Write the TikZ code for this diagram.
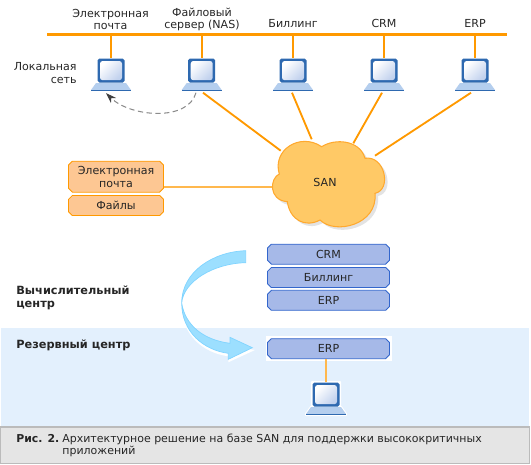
\documentclass[tikz,border=0pt]{standalone}
\usepackage{xcolor}
\usepackage{fontspec}
\setmainfont{DejaVu Sans}
\usetikzlibrary{shapes.misc,arrows.meta,positioning,calc}
\definecolor{busorange}{HTML}{FF9900}
\definecolor{linkorange}{HTML}{FFB84D}
\definecolor{cloudfill}{HTML}{FFC966}
\definecolor{cloudedge}{HTML}{FFA92E}
\definecolor{filefill}{HTML}{FDC793}
\definecolor{appfill}{HTML}{A6B9E8}
\definecolor{appedge}{HTML}{3366CC}
\definecolor{bandfill}{HTML}{E3F0FD}
\definecolor{arcfill}{HTML}{9CDFFF}
\definecolor{arcedge}{HTML}{80D4FF}
\definecolor{capfill}{HTML}{E5E5E5}
\definecolor{capedge}{HTML}{BBBBBB}
\definecolor{pcblue}{HTML}{2E69B0}
\definecolor{pcbase}{HTML}{B4CEEE}
\definecolor{pcglass}{HTML}{C2D2EE}
\tikzset{
  lbl/.style={font=\fontsize{6.3}{7.3}\selectfont, align=center, inner sep=0pt, text=black!85},
  boldlbl/.style={font=\fontsize{6.45}{7.3}\selectfont\bfseries, align=left, inner sep=0pt, anchor=west, text=black!85},
  filebox/.style={draw=busorange, fill=filefill, line width=0.5pt, chamfered rectangle,
    chamfered rectangle corners=all, chamfered rectangle xsep=1.1pt, chamfered rectangle ysep=1.1pt,
    minimum width=95*0.02cm, align=center, inner sep=0pt, lbl},
  appbox/.style={draw=appedge, fill=appfill, line width=0.5pt, chamfered rectangle,
    chamfered rectangle corners=all, chamfered rectangle xsep=1.1pt, chamfered rectangle ysep=1.1pt,
    minimum width=122*0.02cm, minimum height=20*0.02cm, inner sep=0pt, lbl},
  bus/.style={draw=busorange, line width=1.15pt},
  link/.style={draw=linkorange, line width=1.1pt},
  pics/laptop/.style={code={
    \draw[white, fill=white, line width=1.2pt, line join=round] (-14,-16) -- (14,-16) -- (14,9) -- (15,9) -- (20,16) -- (20,17) -- (-20,17) -- (-20,16) -- (-15,9) -- (-14,9) -- cycle;
    \fill[pcblue, rounded corners=1pt] (-13.5,-15.5) rectangle (13.5,8.5);
    \shade[top color=white, bottom color=pcglass, shading angle=45, rounded corners=1.5pt] (-11,-13) rectangle (11,6.2);
    \fill[pcbase] (-15,9) -- (15,9) -- (20,16) -- (-20,16) -- cycle;
    \fill[pcblue] (-20,15.5) rectangle (20,17);
    \coordinate (-top) at (0,-16);
    \coordinate (-bot) at (0,18);
  }}
}
\begin{document}
\begin{tikzpicture}[x=0.02cm, y=-0.02cm]
    \useasboundingbox (0,0) rectangle (531,464);
    % ---- reserve band and caption
    \fill[bandfill] (1,328) rectangle (529,428);
    \draw[capedge, fill=capfill, line width=0.6pt] (0.5,427) rectangle (529.5,463.5);
    \node[boldlbl, font=\fontsize{6.2}{7.3}\selectfont\bfseries] (capnum) at (16,439) {Рис. 2.};
    \node[lbl, anchor=west, align=left, font=\fontsize{6.25}{6.9}\selectfont] (captext) at (62,445) {Архитектурное решение на базе SAN для поддержки высококритичных\\приложений};
    % ---- network
    \coordinate (busl) at (47,34.5);
    \coordinate (busr) at (507,34.5);
    \draw[bus] (busl) -- (busr);
    \foreach \n/\x in {mail/111,nas/201.7,bill/293,crm/384,erp/475}
      { \pic (\n) at (\x,74) {laptop}; }
    \foreach \n/\x in {mail/111,nas/201.7,bill/293,crm/384,erp/475}
      { \draw[bus] (\x,34.5) -- (\n-top); }
    \node[lbl] (lmail) at (110.5,19.5) {Электронная\\почта};
    \node[lbl] (lnas)  at (202,19.5) {Файловый\\сервер (NAS)};
    \node[lbl] (lbill) at (293,23) {Биллинг};
    \node[lbl] (lcrm)  at (384,23) {CRM};
    \node[lbl] (lerp)  at (475,23) {ERP};
    \node[lbl, align=right, anchor=east] (llan) at (77,73) {Локальная\\сеть};
    \draw[densely dashed, draw=black!45, line width=0.6pt, -{Stealth[length=6pt,width=4pt,black!75]}]
      (196,92.7) .. controls (188,122) and (130,117) .. (106,93);
    % ---- cloud
    \path[fill=black!11] (282,177) .. controls (275,153) and (303,135) .. (325,150)
      .. controls (338,141) and (363,143) .. (368,161)
      .. controls (388,158) and (395,193) .. (378,196)
      .. controls (381,228) and (338,238) .. (323,223)
      .. controls (308,231) and (293,223) .. (290,205)
      .. controls (271,203) and (273,181) .. (282,177) -- cycle;
    \path[fill=cloudfill, draw=cloudedge, line width=0.6pt] (279.3,174) .. controls (272,150) and (300,132) .. (321.7,146.7)
      .. controls (335,138) and (360,140) .. (365,158.3)
      .. controls (385,155) and (392,190) .. (375,193.3)
      .. controls (378,225) and (335,235) .. (320,220)
      .. controls (305,228) and (290,220) .. (287.3,201.7)
      .. controls (268,200) and (270,178) .. (279.3,174) -- cycle;
    \node[lbl] (san) at (325,182) {SAN};
    \coordinate (sanw) at (271.7,186.7);
    \coordinate (sana) at (280.7,150.7);
    \coordinate (sanb) at (311.7,139.3);
    \coordinate (sanc) at (353.3,143.3);
    \coordinate (sand) at (375,155.7);
    \coordinate (nasl) at (203,92.7);
    \coordinate (bill) at (292,92.7);
    \coordinate (crml) at (382,92.7);
    \coordinate (erpl) at (471,92.7);
    \foreach \u/\v in {nasl/sana,bill/sanb,crml/sanc,erpl/sand}
      { \draw[bus, line width=1.05pt] (\u) -- (\v); }
    % ---- data on the san
    \node[filebox, minimum height=31*0.02cm] (fmail) at (116,176.7) {Электронная\\почта};
    \node[filebox, minimum height=20*0.02cm] (ffile) at (116,205.5) {Файлы};
    \draw[link] (fmail.east |- sanw) -- (sanw);
    % ---- applications
    \node[appbox] (acrm) at (328.5,254.2) {CRM};
    \node[appbox] (abil) at (328.5,277.5) {Биллинг};
    \node[appbox] (aerp) at (328.5,300.3) {ERP};
    \node[boldlbl] (lcenter) at (16,298) {Вычислительный\\центр};
    \node[boldlbl] (lres) at (16,345) {Резервный центр};
    % ---- replication arrow
    \path[fill=white] (181.7,306) .. controls (181.7,335) and (203.3,353) .. (228.3,356.3)
      -- (228.3,362.3) -- (255,350) -- (230,346) .. controls (203,343) and (185,328) .. (181.7,306) -- cycle;
    \path[fill=arcfill, draw=arcedge, line width=0.4pt] (245.7,250.7) .. controls (213.3,251.7) and (181.7,271.7) .. (181.7,303)
      .. controls (181.7,331.7) and (203.3,350) .. (228.3,353.3)
      -- (228.3,359.3) -- (252.3,347.7) -- (230,337.3) -- (230,343.3)
      .. controls (203.3,340) and (185,325) .. (181.7,303)
      .. controls (183.3,281.7) and (213.3,263.3) .. (245.7,262.7) -- cycle;
    % ---- reserve site
    \node[appbox, draw=white, fill=white, minimum width=125*0.02cm, minimum height=24*0.02cm] (ahalo) at (328.5,348.7) {};
    \node[appbox] (aback) at (328.5,348.7) {ERP};
    \pic (pcback) at (326,398) {laptop};
    \draw[link] (aback.south -| pcback-top) -- (pcback-top);
\end{tikzpicture}
\end{document}
